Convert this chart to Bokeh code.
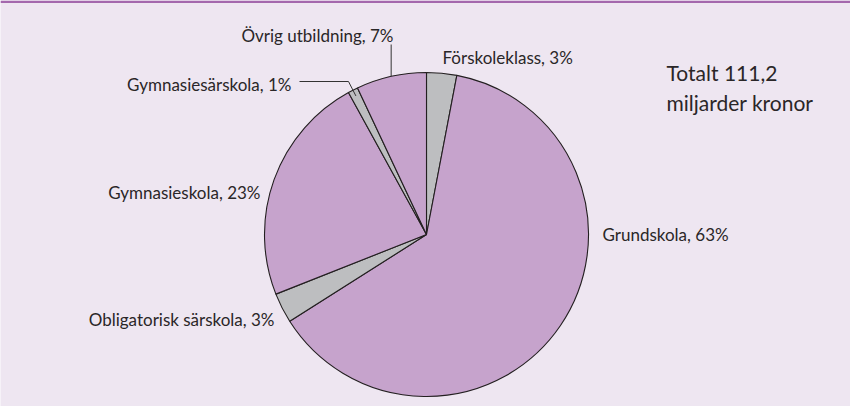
import math
from bokeh.plotting import figure
from bokeh.models import ColumnDataSource, Range1d, BoxAnnotation
from bokeh.core.properties import value
from bokeh.embed import file_html
from bokeh.resources import INLINE

# ---- data ----
categories = ["Förskoleklass", "Grundskola", "Obligatorisk särskola",
              "Gymnasieskola", "Gymnasiesärskola", "Övrig utbildning"]
shares = [3, 63, 3, 23, 1, 7]
total_lines = ["Totalt 111,2", "miljarder kronor"]

# ---- style / layout ----
PURPLE = "#C6A3CC"
GRAY = "#BDBEC0"
BG = "#EEE6F1"
BAND = "#A468AD"
TXT = "#2A2628"
FONT = "Lato"
colors = [GRAY, PURPLE, GRAY, PURPLE, GRAY, PURPLE]

W, H = 850, 406
CX, CY, R = 434, 172, 162

p = figure(width=W, height=H, output_backend="svg", toolbar_location=None,
           x_range=Range1d(8, 8 + W), y_range=Range1d(0, H),
           x_axis_type=None, y_axis_type=None, min_border=0)
p.grid.visible = False
p.outline_line_color = None
p.background_fill_color = BG
p.border_fill_color = BG

p.add_layout(BoxAnnotation(bottom=H - 2.6, top=H, fill_color=BAND, fill_alpha=1, line_color=None))

tot = float(sum(shares))
cum = 0.0
starts, ends, mids = [], [], []
for s in shares:
    a0 = cum / tot
    cum += s
    a1 = cum / tot
    starts.append(math.pi / 2 - 2 * math.pi * a0)
    ends.append(math.pi / 2 - 2 * math.pi * a1)
    mids.append((a0 + a1) / 2)

src = ColumnDataSource(dict(x=[CX] * len(shares), y=[CY] * len(shares),
                            start=starts, end=ends, color=colors))
p.wedge(x="x", y="y", radius=R, start_angle="start", end_angle="end",
        direction="clock", fill_color="color", line_color="#231F20",
        line_width=1.1, source=src)

def edge_point(frac, r):
    ang = 2 * math.pi * frac
    return CX + r * math.sin(ang), CY + r * math.cos(ang)

# label anchors (data y = 414 - page y)
PY = lambda py: 414 - py
label_pos = [
    (450, PY(65), "left"),
    (610, PY(242), "left"),
    (282, PY(327), "right"),
    (268, PY(200), "right"),
    (299, PY(92), "right"),
    (401, PY(43), "right"),
]
lx = [a[0] for a in label_pos]
ly = [a[1] for a in label_pos]
la = [a[2] for a in label_pos]
texts = [f"{c}, {v}%" for c, v in zip(categories, shares)]
p.text(x=lx, y=ly, text=texts, text_align=la, text_baseline="middle",
       text_font=value(FONT), text_font_size="17px", text_color=TXT)

# leader lines
gx, gy = edge_point(mids[4], R * 0.96)
p.line(x=[307, 356, gx], y=[PY(89), PY(89), gy], line_color="#333333", line_width=1)
ox, oy = edge_point(mids[5], R)
p.line(x=[ox, ox], y=[PY(52), oy], line_color="#333333", line_width=1)

p.text(x=[674, 674], y=[PY(80), PY(110)], text=total_lines, text_align="left",
       text_baseline="middle", text_font=value(FONT), text_font_size="21px",
       text_color=TXT)

open("out.html", "w").write(file_html(p, INLINE))
